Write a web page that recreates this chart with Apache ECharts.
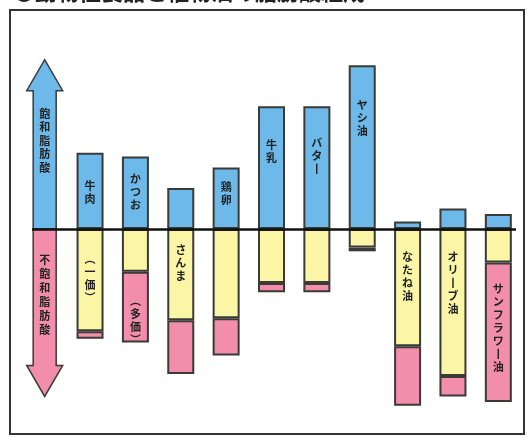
<!DOCTYPE html>
<html>
<head>
<meta charset="utf-8">
<script src="https://cdn.jsdelivr.net/npm/echarts@6/dist/echarts.min.js"></script>
<style>
    html, body { margin: 0; padding: 0; background: #fff; }
    #main { width: 527px; height: 437px; }
</style>
</head>
<body>
<div id="main"></div>
<script>
// 脂肪酸組成 (%)  -- first slot is the legend arrow
var foods = ['', '牛肉', 'かつお', 'さんま', '鶏卵', '牛乳', 'バター', 'ヤシ油', 'なたね油', 'オリーブ油', 'サンフラワー油']
var saturated = [null, 41, 39, 22, 33, 66, 66, 88, 4, 11, 8]
var mono = [null, 55, 23, 49, 48, 29, 29, 10, 63, 79, 18]
var poly = [null, 4, 38, 29, 20, 5, 5, 2, 32, 11, 75]
var arrowValues = [91, -90]
var arrowNames = ['飽和脂肪酸', '不飽和脂肪酸']

var blueLabels = ['', '牛肉', 'かつお', '', '鶏卵', '牛乳', 'バター', 'ヤシ油', '', '', '']
var yellowLabels = ['', '(一価)', '', 'さんま', '', '', '', '', 'なたね油', 'オリーブ油', '']
var pinkLabels = ['', '', '(多価)', '', '', '', '', '', '', '', 'サンフラワー油']

var blueOffset = [0, 27, 16, 0, 13, 32, 30, 33, 0, 0, 0]
var yellowOffset = [0, 23, 0, 14, 0, 0, 0, 0, 21, 21, 0]
var pinkOffset = [0, 0, 23, 0, 0, 0, 0, 0, 0, 0, 20]

var BLUE = '#6cb9ea'
var YELLOW = '#faf6a6'
var PINK = '#f28dab'
var EDGE = '#3a3a36'

// 縦書き用に文字を置き換える
var vertical = (s) => {
    var map = {
        '\u30fc': '\u4e28',
        '(': '\ufe35',
        ')': '\ufe36',
    }
    return Array.from(s).map((c) => map[c] || c).join('\n')
}

var labelStyle = {
    show: true,
    position: 'insideTop',
    distance: 0,
    fontFamily: 'Noto Sans CJK JP',
    fontSize: 11,
    fontWeight: 'bold',
    lineHeight: 13,
    color: '#222',
}

var makeData = (values, labels, offsets) => {
    return values.map((v, i) => {
        var item = {value: v}
        if (labels[i]) {
            item.label = Object.assign({}, labelStyle, {
                formatter: vertical(labels[i]),
                offset: [0, offsets[i]],
            })
        }
        return item
    })
}

// 矢印 (カテゴリ0の位置に描く)
var renderArrow = (params, api) => {
    var v = api.value(1)
    var base = api.coord([0, 0])
    var tip = api.coord([0, v])
    var cx = base[0]
    var dir = v > 0 ? -1 : 1
    var shaft = 11.5
    var head = 18
    var headLen = 31
    var neck = tip[1] - dir * headLen
    var points = [
        [cx - shaft, base[1]],
        [cx - shaft, neck],
        [cx - head, neck],
        [cx, tip[1]],
        [cx + head, neck],
        [cx + shaft, neck],
        [cx + shaft, base[1]],
    ]
    var name = arrowNames[params.dataIndex]
    var textTop = v > 0 ? tip[1] + 47 : base[1] + 24
    return {
        type: 'group',
        children: [
            {
                type: 'polygon',
                shape: {points: points},
                style: {fill: v > 0 ? BLUE : PINK, stroke: EDGE, lineWidth: 1.5},
            },
            {
                type: 'text',
                x: cx,
                y: textTop,
                style: {
                    text: vertical(name),
                    align: 'center',
                    verticalAlign: 'top',
                    font: 'bold 11px "Noto Sans CJK JP"',
                    lineHeight: v > 0 ? 13.5 : 14,
                    fill: '#222',
                },
            },
        ],
    }
}

var __main = () => {
    var chart = echarts.init(document.getElementById('main'))
    var option = {
        animation: false,
        title: {
            text: '●動物性食品と植物油の脂肪酸組成',
            left: 8,
            top: -24,
            textStyle: {fontSize: 22, fontWeight: 'bold', color: '#222', fontFamily: 'Noto Sans CJK JP'},
        },
        graphic: [
            {
                type: 'rect',
                shape: {x: 10, y: 10, width: 514, height: 424},
                style: {fill: 'none', stroke: '#333', lineWidth: 2},
                z: 0,
            },
        ],
        grid: {left: 22, right: 6, top: 43, bottom: 22},
        xAxis: {
            type: 'category',
            data: foods,
            axisLine: {show: false},
            axisTick: {show: false},
            axisLabel: {show: false},
        },
        yAxis: {
            type: 'value',
            min: -100,
            max: 100,
            show: false,
            splitLine: {show: false},
        },
        series: [
            {
                type: 'custom',
                renderItem: renderArrow,
                data: arrowValues.map((v) => [0, v]),
                z: 3,
            },
            {
                type: 'bar',
                stack: 'fat',
                barWidth: 27,
                data: makeData(saturated, blueLabels, blueOffset),
                itemStyle: {color: BLUE, borderColor: EDGE, borderWidth: 2},
                markLine: {
                    silent: true,
                    symbol: 'none',
                    z: 10,
                    label: {show: false},
                    lineStyle: {color: '#111', width: 2.5, type: 'solid'},
                    data: [[{x: 32, yAxis: 0}, {x: 516, yAxis: 0}]],
                },
            },
            {
                type: 'bar',
                stack: 'fat',
                barWidth: 27,
                data: makeData(mono.map((v) => v == null ? null : -v), yellowLabels, yellowOffset),
                itemStyle: {color: YELLOW, borderColor: EDGE, borderWidth: 2},
            },
            {
                type: 'bar',
                stack: 'fat',
                barWidth: 27,
                data: makeData(poly.map((v) => v == null ? null : -v), pinkLabels, pinkOffset),
                itemStyle: {color: PINK, borderColor: EDGE, borderWidth: 2},
            },
        ],
    }
    chart.setOption(option)
}
__main()
</script>
</body>
</html>
